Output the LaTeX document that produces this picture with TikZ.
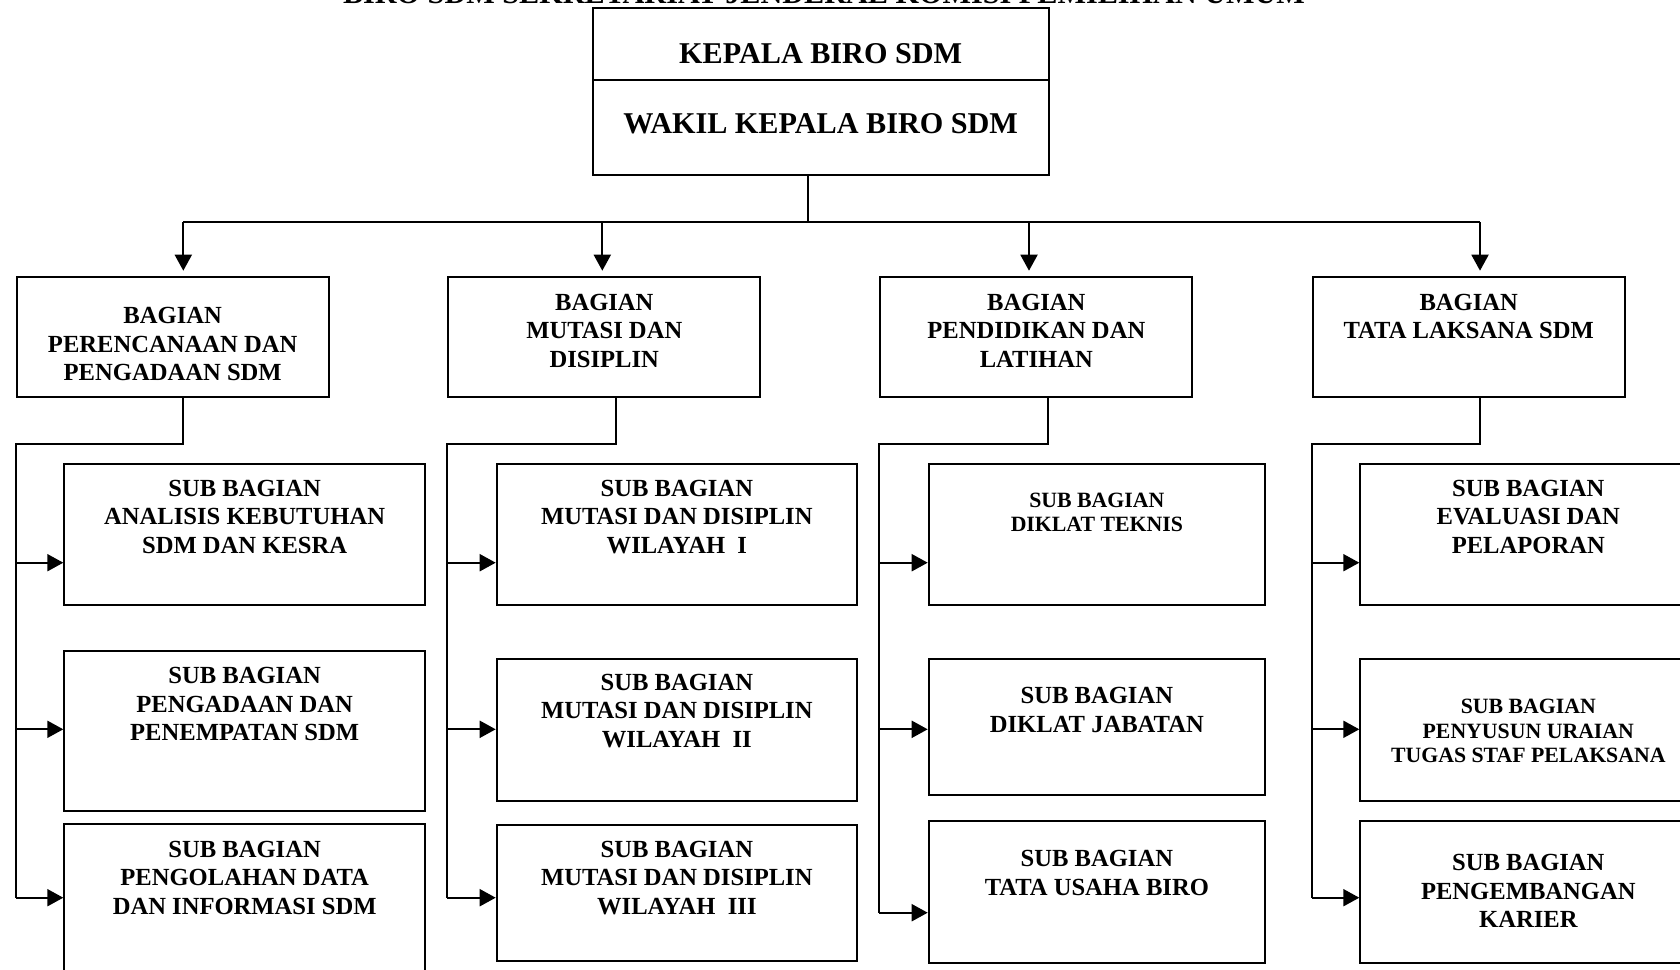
\documentclass[tikz,border=0pt]{standalone}
\usepackage{fontspec}
\setmainfont{Liberation Serif}
\usetikzlibrary{positioning,arrows.meta}

\tikzset{
  orgbox/.style={draw, line width=1pt, anchor=north west, inner sep=0pt},
  bagbox/.style={orgbox, minimum width=156pt, minimum height=60.15pt},
  subbox/.style 2 args={orgbox, minimum width=#1, minimum height=#2},
  txt/.style={align=center, inner sep=0pt, font=\bfseries\fontsize{12.3}{14.2}\selectfont},
  smalltxt/.style={txt, font=\bfseries\fontsize{10.9}{12.3}\selectfont},
  bigtxt/.style={txt, font=\bfseries\fontsize{15.1}{17}\selectfont},
}

\begin{document}
\begin{tikzpicture}[x=0.5pt, y=-0.5pt, line width=1pt,
    >={Triangle[length=8pt,width=8.5pt]}]
      \useasboundingbox (0,0) rectangle (1680,969);
      % title, cut by the page edge
      \node[bigtxt, anchor=base] (title) at (824,3.5)
        {BIRO SDM SEKRETARIAT JENDERAL KOMISI PEMILIHAN UMUM};
      % head
      \node[subbox={228pt}{35.85pt}] (kepala) at (591.7,7.3) {};
      \node[bigtxt, below=17.5pt of kepala.north] (tkepala) {KEPALA BIRO SDM};
      \node[subbox={228pt}{47.65pt}] (wakil) at (591.7,79) {};
      \node[bigtxt, below=16.85pt of wakil.north] (twakil) {WAKIL KEPALA BIRO SDM};
      \coordinate (bus) at (807.7,222.3);
      \draw (wakil.south -| bus) -- (bus);
      \draw (bus -| 183.3,0) -- (bus -| 1480,0);
      \begin{scope}[xshift=7.85pt]
        \node[bagbox] (b1) at (0,275.7) {};
        \node[txt, below=15.5pt of b1.north] (tb1) {BAGIAN\\PERENCANAAN DAN\\PENGADAAN SDM};
        \draw[->, shorten >=2.5pt] (bus -| 167.6,0) -- (b1.north -| 167.6,0);
        \node[subbox={180.35pt}{70.8pt}] (s11) at (47.6,462.7) {};
        \node[txt, below=8.3pt of s11.north] (t11) {SUB BAGIAN\\ANALISIS KEBUTUHAN\\SDM DAN KESRA};
        \node[subbox={180.35pt}{80pt}] (s12) at (47.6,650) {};
        \node[txt, below=8.35pt of s12.north] (t12) {SUB BAGIAN\\PENGADAAN DAN\\PENEMPATAN SDM};
        \node[subbox={180.35pt}{75pt}] (s13) at (47.6,823.3) {};
        \node[txt, below=8.35pt of s13.north] (t13) {SUB BAGIAN\\PENGOLAHAN DATA\\DAN INFORMASI SDM};
        \coordinate (k1) at (0,444);
        \draw (b1.south -| 167.6,0) |- (k1) -- (k1 |- 0,897.7);
        \draw[->] (k1 |- 0,562.7) -- (s11.west |- 0,562.7);
        \draw[->] (k1 |- 0,729.3) -- (s12.west |- 0,729.3);
        \draw[->] (k1 |- 0,897.7) -- (s13.west |- 0,897.7);
      \end{scope}
      \begin{scope}[xshift=223.65pt]
        \node[bagbox] (b2) at (0,275.7) {};
        \node[txt, below=8.8pt of b2.north] (tb2) {BAGIAN\\MUTASI DAN\\DISIPLIN};
        \draw[->, shorten >=2.5pt] (bus -| 155,0) -- (b2.north -| 155,0);
        \node[subbox={180.15pt}{70.8pt}] (s21) at (48.4,462.7) {};
        \node[txt, below=8.3pt of s21.north] (t21) {SUB BAGIAN\\MUTASI DAN DISIPLIN\\WILAYAH~~I};
        \node[subbox={180.15pt}{70.85pt}] (s22) at (48.4,658.3) {};
        \node[txt, below=7.5pt of s22.north] (t22) {SUB BAGIAN\\MUTASI DAN DISIPLIN\\WILAYAH~~II};
        \node[subbox={180.15pt}{68pt}] (s23) at (48.4,824) {};
        \node[txt, below=8pt of s23.north] (t23) {SUB BAGIAN\\MUTASI DAN DISIPLIN\\WILAYAH~~III};
        \coordinate (k2) at (0,444);
        \draw (b2.south -| 168.4,0) |- (k2) -- (k2 |- 0,897.7);
        \draw[->] (k2 |- 0,562.7) -- (s21.west |- 0,562.7);
        \draw[->] (k2 |- 0,729.3) -- (s22.west |- 0,729.3);
        \draw[->] (k2 |- 0,897.7) -- (s23.west |- 0,897.7);
      \end{scope}
      \begin{scope}[xshift=439.65pt]
        \node[bagbox] (b3) at (0,275.7) {};
        \node[txt, below=8.8pt of b3.north] (tb3) {BAGIAN\\PENDIDIKAN DAN\\LATIHAN};
        \draw[->, shorten >=2.5pt] (bus -| 149.7,0) -- (b3.north -| 149.7,0);
        \node[subbox={168.15pt}{70.8pt}] (s31) at (48.4,462.7) {};
        \node[smalltxt, below=14.5pt of s31.north] (t31) {SUB BAGIAN\\DIKLAT TEKNIS};
        \node[subbox={168.15pt}{68pt}] (s32) at (48.4,658.3) {};
        \node[txt, below=14.2pt of s32.north] (t32) {SUB BAGIAN\\DIKLAT JABATAN};
        \node[subbox={168.15pt}{70.85pt}] (s33) at (48.4,820) {};
        \node[txt, below=14.7pt of s33.north] (t33) {SUB BAGIAN\\TATA USAHA BIRO};
        \coordinate (k3) at (0,444);
        \draw (b3.south -| 168.4,0) |- (k3) -- (k3 |- 0,912.7);
        \draw[->] (k3 |- 0,562.7) -- (s31.west |- 0,562.7);
        \draw[->] (k3 |- 0,729.3) -- (s32.west |- 0,729.3);
        \draw[->] (k3 |- 0,912.7) -- (s33.west |- 0,912.7);
      \end{scope}
      \begin{scope}[xshift=655.85pt]
        \node[bagbox] (b4) at (0,275.7) {};
        \node[txt, below=8.8pt of b4.north] (tb4) {BAGIAN\\TATA LAKSANA SDM};
        \draw[->, shorten >=2.5pt] (bus -| 168.3,0) -- (b4.north -| 168.3,0);
        \node[subbox={168pt}{70.8pt}] (s41) at (47.6,462.7) {};
        \node[txt, below=8.3pt of s41.north] (t41) {SUB BAGIAN\\EVALUASI DAN\\PELAPORAN};
        \node[subbox={168pt}{70.85pt}] (s42) at (47.6,658.3) {};
        \node[smalltxt, below=20pt of s42.north] (t42) {SUB BAGIAN\\PENYUSUN URAIAN\\TUGAS STAF PELAKSANA};
        \node[subbox={168pt}{70.85pt}] (s43) at (47.6,820) {};
        \node[txt, below=16.7pt of s43.north] (t43) {SUB BAGIAN\\PENGEMBANGAN\\KARIER};
        \coordinate (k4) at (0,444);
        \draw (b4.south -| 168.3,0) |- (k4) -- (k4 |- 0,897.7);
        \draw[->] (k4 |- 0,562.7) -- (s41.west |- 0,562.7);
        \draw[->] (k4 |- 0,729.3) -- (s42.west |- 0,729.3);
        \draw[->] (k4 |- 0,897.7) -- (s43.west |- 0,897.7);
      \end{scope}
    \end{tikzpicture}
\end{document}
